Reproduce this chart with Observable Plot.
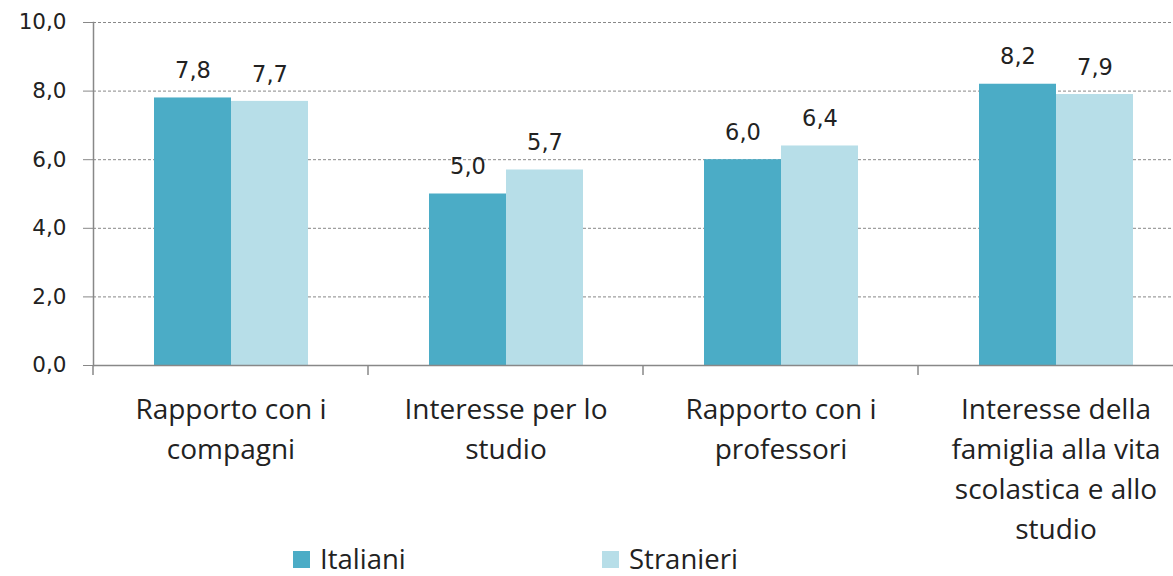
<!DOCTYPE html>
<html><head><meta charset="utf-8">
<script src="https://cdn.jsdelivr.net/npm/d3@7"></script>
<script src="https://cdn.jsdelivr.net/npm/@observablehq/plot@0.6"></script>
<style>
body{margin:0;background:#fff;font-family:"Open Sans",sans-serif;position:relative;width:1173px;height:576px;overflow:hidden}
#legend{position:absolute;left:293px;top:545px;display:flex;height:28px;line-height:28px;align-items:center;font-size:27.5px;color:#222}
.item{display:flex;align-items:center;width:309px}
.sw{width:17px;height:17px;margin-right:10px}
</style></head><body><div id="chart"></div><div id="legend"></div>
<script>
const categories = ["Rapporto con i compagni", "Interesse per lo studio", "Rapporto con i professori", "Interesse della famiglia alla vita scolastica e allo studio"];
const categoryLabels = ["Rapporto con i\ncompagni", "Interesse per lo\nstudio", "Rapporto con i\nprofessori", "Interesse della\nfamiglia alla vita\nscolastica e allo\nstudio"];
const series = ["Italiani", "Stranieri"];
const italiani = [7.8, 5.0, 6.0, 8.2];
const stranieri = [7.7, 5.7, 6.4, 7.9];
const yTicks = [0, 2, 4, 6, 8, 10];
const colors = ["#4bacc6", "#b7dee8"];

const data = categories.flatMap((c, i) => [
  {cat: c, series: series[0], value: italiani[i]},
  {cat: c, series: series[1], value: stranieri[i]}
]);
const fmt = v => v.toFixed(1).replace(".", ",");

function bandTicks(index, scales, values, dimensions) {
  const y = scales.y;
  const x = dimensions.marginLeft;
  const g = d3.create("svg:g");
  g.append("line").attr("x1", x).attr("x2", x).attr("y1", y(0)).attr("y2", y(0) + 10)
    .attr("stroke", "#888").attr("stroke-width", 1.5);
  return g.node();
}

const chart = Plot.plot({
  width: 1173, height: 576,
  marginLeft: 93, marginRight: -20, marginTop: 22, marginBottom: 211,
  style: {fontFamily: "'Open Sans', sans-serif", color: "#222", background: "#fff", overflow: "hidden"},
  fx: {domain: categories, padding: 0, label: null},
  x: {domain: series, paddingInner: 0, paddingOuter: 0.763, axis: null},
  y: {domain: [0, 10], ticks: yTicks, label: null},
  color: {domain: series, range: colors},
  marks: [
    Plot.gridY(yTicks, {stroke: "#888", strokeOpacity: 1, strokeDasharray: "3,2"}),
    Plot.barY(data, {fx: "cat", x: "series", y: "value", fill: "series"}),
    Plot.ruleY([0], {stroke: "#888", strokeWidth: 1.5}),
    Plot.frame({anchor: "left", facetAnchor: "left", stroke: "#888", strokeWidth: 1.5}),
    bandTicks,
    Plot.axisY(yTicks, {tickSize: 10, tickPadding: 17, tickFormat: fmt, fontSize: 21.5, fontFamily: "DejaVu Sans", stroke: "#888", fill: "#222", label: null}),
    Plot.axisFx({anchor: "bottom", tickSize: 0, tickPadding: 25, tickFormat: c => categoryLabels[categories.indexOf(c)], fontSize: 28, lineHeight: 1.43, fill: "#222", label: null}),
    Plot.text(data, {fx: "cat", x: "series", y: "value", text: d => fmt(d.value), dy: -27, fontSize: 22.5, fontFamily: "DejaVu Sans", fill: "#222"})
  ]
});
document.getElementById("chart").appendChild(chart);

const legend = document.getElementById("legend");
series.forEach((s, i) => {
  const item = document.createElement("div");
  item.className = "item";
  const sw = document.createElement("span");
  sw.className = "sw";
  sw.style.background = colors[i];
  const t = document.createElement("span");
  t.textContent = s;
  item.appendChild(sw); item.appendChild(t);
  legend.appendChild(item);
});
</script></body></html>
